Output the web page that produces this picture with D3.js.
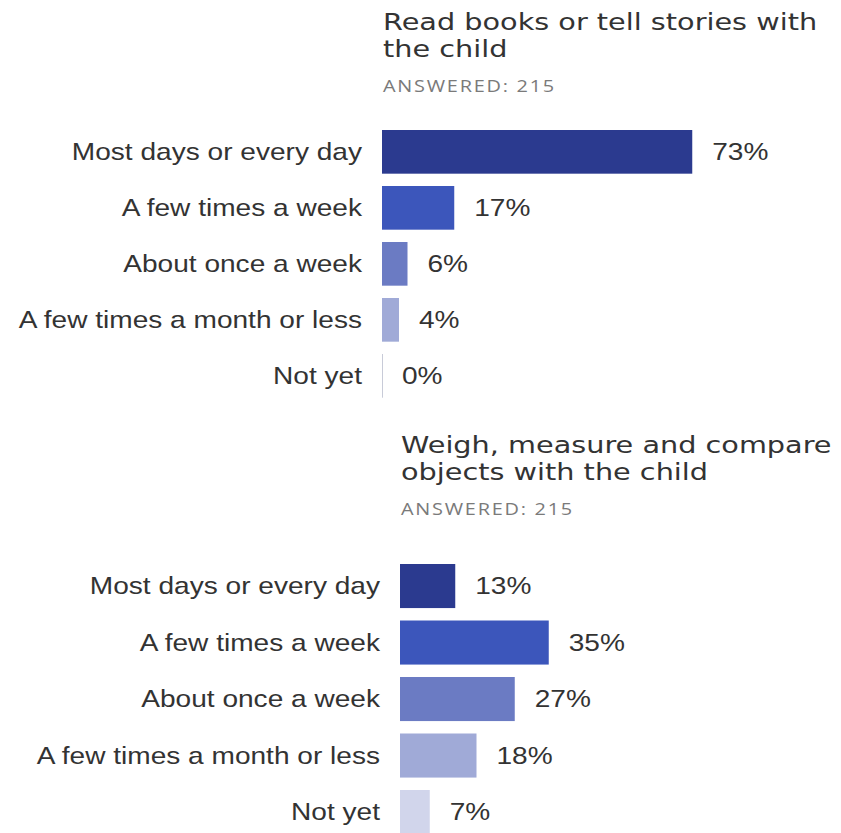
<!DOCTYPE html>
<html><head><meta charset="utf-8">
<script src="https://cdn.jsdelivr.net/npm/d3@7"></script>
<style>body{margin:0;background:#fff}</style></head>
<body><svg id="c" width="841" height="833"></svg>
<script>
const categories = ["Most days or every day","A few times a week","About once a week","A few times a month or less","Not yet"];
const readValues = [73,17,6,4,0];
const weighValues = [13,35,27,18,7];
const readTitle = ["Read books or tell stories with","the child"];
const weighTitle = ["Weigh, measure and compare","objects with the child"];
const answeredLabels = ["ANSWERED: 215","ANSWERED: 215"];
const colors = ["#2b3a8f","#3c56bb","#6b7bc3","#a0aad7","#d1d5eb"];

const SX = 1.17;
const TSX = 1.26;
const svg = d3.select("#c");
const x = d3.scaleLinear().domain([0,100]).range([0,425]);
const color = d3.scaleOrdinal().domain(categories).range(colors);

const panels = [
  {title: readTitle, values: readValues, answered: answeredLabels[0], barX: 382, titleY: 30, bandTop: 130, step: 56},
  {title: weighTitle, values: weighValues, answered: answeredLabels[1], barX: 400, titleY: 453, bandTop: 564, step: 56.5}
];

function stext(g, tx, ty, s) { return g.append("text").attr("transform", `translate(${tx},${ty}) scale(${s || SX},1)`); }

panels.forEach(p => {
  const g = svg.append("g");
  const y = d3.scaleBand().domain(categories)
    .range([p.bandTop, p.bandTop + p.step * (categories.length - 0.22)])
    .paddingInner(0.22).paddingOuter(0);

  p.title.forEach((line, i) => {
    stext(g, p.barX + 1, p.titleY + i * 27, TSX).text(line)
      .attr("font-family", "'DejaVu Sans', sans-serif").attr("font-size", 22.8).attr("fill", "#333");
  });
  stext(g, p.barX + 1, p.titleY + 62).text(p.answered)
    .attr("font-family", "'Open Sans', sans-serif").attr("font-size", 17).attr("fill", "#7a7a7a")
    .attr("letter-spacing", 1.5);

  const data = categories.map((c, i) => ({c, v: p.values[i]}));
  g.selectAll("rect.bar").data(data).join("rect").attr("class","bar")
    .attr("x", p.barX).attr("y", d => y(d.c))
    .attr("width", d => Math.max(1, x(d.v))).attr("height", y.bandwidth())
    .attr("fill", d => d.v === 0 ? "#c8cbd8" : color(d.c));

  data.forEach(d => {
    const cy = y(d.c) + y.bandwidth() / 2;
    stext(g, p.barX - 20, cy).text(d.c)
      .attr("text-anchor", "end").attr("dy", "0.35em")
      .attr("font-family", "'Liberation Sans', Arial, sans-serif").attr("font-size", 24).attr("fill", "#333");
    stext(g, p.barX + x(d.v) + 20, cy).text(d.v + "%")
      .attr("dy", "0.35em")
      .attr("font-family", "'Liberation Sans', Arial, sans-serif").attr("font-size", 24).attr("fill", "#333");
  });
});
</script></body></html>
